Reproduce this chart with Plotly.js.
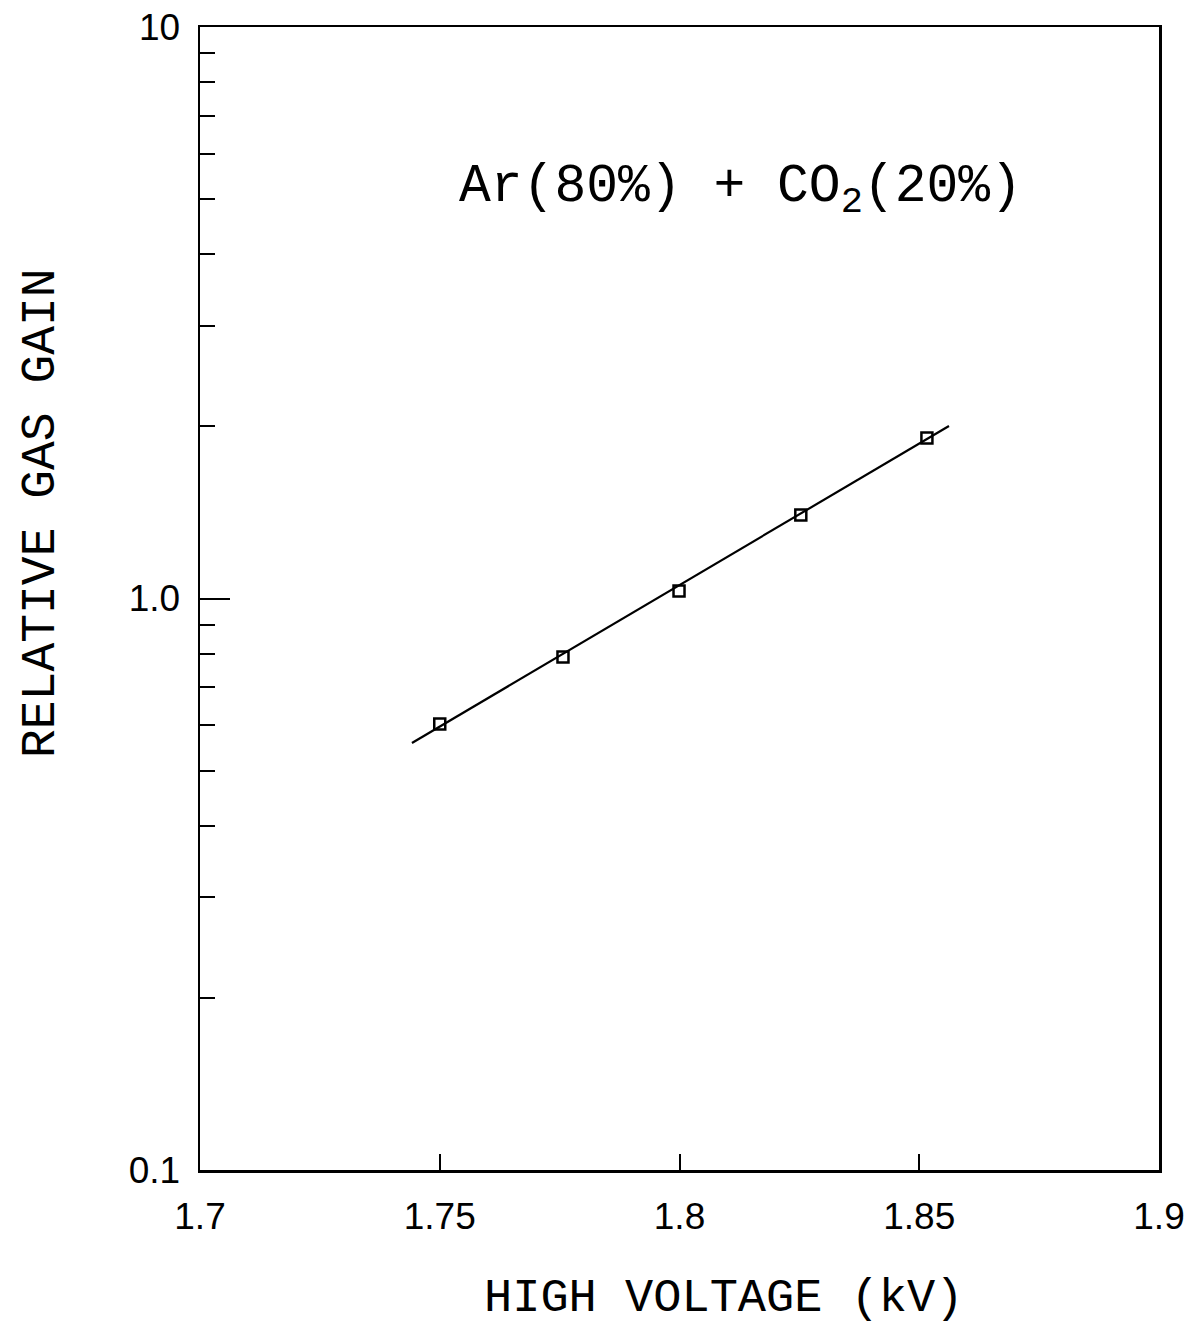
<!DOCTYPE html>
<html>
<head>
<meta charset="utf-8">
<script src="https://cdn.plot.ly/plotly-3.0.1.min.js"></script>
<style>
html,body{margin:0;padding:0;background:#fff;}
#chart{width:1200px;height:1331px;}
</style>
</head>
<body>
<div id="chart"></div>
<script>
// Measured data points: high voltage (kV) vs relative gas gain
var highVoltage = [1.75, 1.7757, 1.7999, 1.8253, 1.8516];
var relativeGain = [0.603, 0.790, 1.031, 1.400, 1.909];

// Fitted exponential line end points
var fitVoltage = [1.7442, 1.8562];
var fitGain = [0.5587, 2.004];

// Tick labels
var xTickVals = [1.7, 1.75, 1.8, 1.85, 1.9];
var xTickText = ['1.7', '1.75', '1.8', '1.85', '1.9'];
var yTickVals = [0.1, 1, 10];
var yTickText = ['0.1', '1.0', '10'];

var titleFont = {family: 'Liberation Mono, DejaVu Sans Mono, monospace', size: 47, color: '#000'};
var tickFont = {family: 'Liberation Sans, Arial, sans-serif', size: 37, color: '#000'};

var traces = [
  {
    x: fitVoltage, y: fitGain, type: 'scatter', mode: 'lines',
    line: {color: '#000', width: 2.2}, showlegend: false, hoverinfo: 'skip'
  },
  {
    x: highVoltage, y: relativeGain, type: 'scatter', mode: 'markers',
    marker: {symbol: 'square-open', size: 11, color: '#000', line: {color: '#000', width: 2.5}},
    showlegend: false
  }
];

var layout = {
  width: 1200, height: 1331,
  margin: {l: 200, r: 41, t: 27, b: 161},
  paper_bgcolor: '#fff', plot_bgcolor: '#fff',
  showlegend: false,
  font: {family: 'Liberation Sans, Arial, sans-serif', color: '#000'},
  xaxis: {
    range: [1.7, 1.9],
    tickmode: 'array', tickvals: xTickVals, ticktext: xTickText,
    ticks: 'inside', ticklen: 16, tickwidth: 2, tickcolor: '#000',
    showline: true, linewidth: 2.5, linecolor: '#000', mirror: true,
    showgrid: false, zeroline: false,
    tickfont: tickFont,
    ticklabelstandoff: 12
  },
  yaxis: {
    type: 'log', range: [-1, 1],
    tickmode: 'array', tickvals: yTickVals, ticktext: yTickText,
    ticks: 'inside', ticklen: 30, tickwidth: 2, tickcolor: '#000',
    minor: {ticks: 'inside', ticklen: 15, tickwidth: 2, tickcolor: '#000', dtick: 'D1', showgrid: false},
    showline: true, linewidth: 2.5, linecolor: '#000', mirror: true,
    showgrid: false, zeroline: false,
    tickfont: tickFont,
    ticklabelstandoff: 10
  },
  annotations: [
    {
      text: 'HIGH VOLTAGE (kV)', xref: 'paper', yref: 'paper',
      x: (723 - 200) / 959, y: -(1298 - 1170) / 1143,
      xanchor: 'center', yanchor: 'middle', showarrow: false, font: titleFont
    },
    {
      text: 'RELATIVE GAS GAIN', xref: 'paper', yref: 'paper', textangle: -90,
      x: (41 - 200) / 959, y: (1170 - 513) / 1143,
      xanchor: 'center', yanchor: 'middle', showarrow: false,
      font: {family: 'Liberation Mono, DejaVu Sans Mono, monospace', size: 48, color: '#000'}
    },
    {
      text: 'Ar(80%) + CO<sub>2</sub>(20%)', xref: 'paper', yref: 'paper',
      x: (740 - 200) / 959, y: (1170 - 190) / 1143,
      xanchor: 'center', yanchor: 'middle', showarrow: false,
      font: {family: 'Liberation Mono, DejaVu Sans Mono, monospace', size: 53, color: '#000'}
    }
  ]
};

Plotly.newPlot('chart', traces, layout, {displayModeBar: false, staticPlot: true});
</script>
</body>
</html>
